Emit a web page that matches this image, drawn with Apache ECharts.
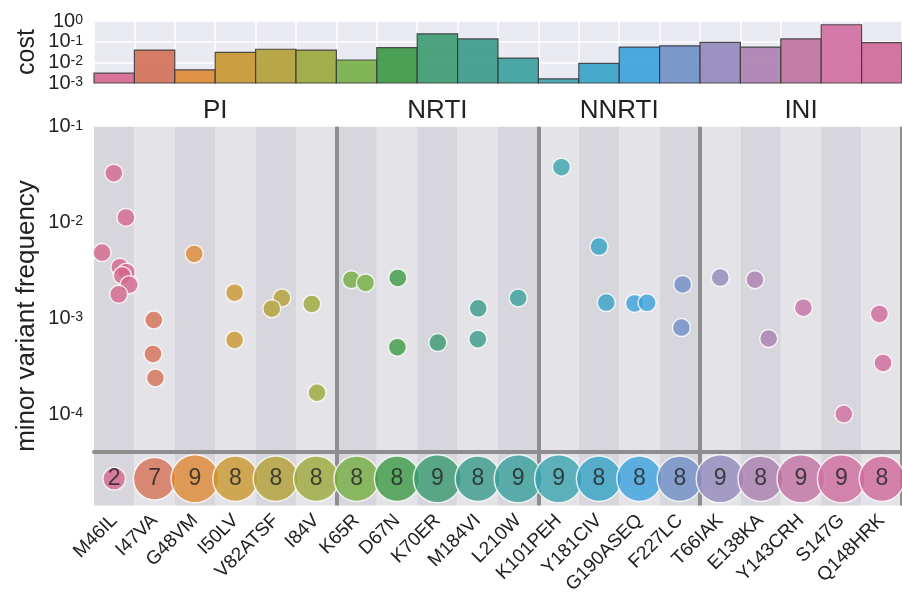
<!DOCTYPE html>
<html><head><meta charset="utf-8">
<script src="https://cdn.jsdelivr.net/npm/echarts@6/dist/echarts.min.js"></script>
<style>html,body{margin:0;padding:0;background:#fff}#c{width:902px;height:609px}</style>
</head><body><div id="c"></div>
<script>
const categories = ['M46IL','I47VA','G48VM','I50LV','V82ATSF','I84V','K65R','D67N','K70ER','M184VI','L210W','K101PEH','Y181CIV','G190ASEQ','F227LC','T66IAK','E138KA','Y143CRH','S147G','Q148HRK'];
const groupNames = ['PI','NRTI','NNRTI','INI'];
const groupSizes = [6,5,4,5];
const cost = [0.0030,0.039,0.0043,0.030,0.043,0.039,0.013,0.051,0.24,0.135,0.016,0.0016,0.009,0.055,0.063,0.093,0.055,0.135,0.66,0.089];
const sampleCounts = [2,7,9,8,8,8,8,8,9,8,9,9,8,8,8,9,8,9,9,8];
const minorFreq = [
  [0.0327,0.0113,0.00485,0.00342,0.00303,0.0028,0.00224,0.00178],
  [0.00096,0.000425,0.000238],
  [0.0047],
  [0.00185,0.000594],
  [0.00163,0.00126],
  [0.00141,0.000167],
  [0.00253,0.00234],
  [0.00264,0.0005],
  [0.000558],
  [0.00127,0.000605],
  [0.00163],
  [0.0378],
  [0.0056,0.00146],
  [0.00143,0.00145],
  [0.00226,0.0008],
  [0.00266],
  [0.00253,0.000615],
  [0.00129],
  [0.0001],
  [0.00111,0.000342]
];
// horizontal jitter within each category (fraction of a category width)
const jitter = [
  [-0.01,0.29,-0.30,0.14,0.30,0.20,0.37,0.11],
  [-0.02,-0.04,0.02],
  [-0.02],
  [-0.02,-0.02],
  [0.15,-0.10],
  [-0.11,0.02],
  [-0.13,0.22],
  [0.02,0.01],
  [0.01],
  [0.01,0],
  [0],
  [0.07],
  [0,0.18],
  [-0.12,0.19],
  [0.07,0.04],
  [0],
  [-0.14,0.20],
  [0.06],
  [0.06],
  [-0.06,0.03]
];
const costRange = [0.001, 1];
const freqRange = [1e-4, 0.1];

const palette = ['#d5668c','#d46f55','#e08a34','#c8962e','#b3a036','#9aa73a','#75ae42','#3a9842','#3a9a70','#389a88','#3aa09c','#3aa3ad','#36a3c6','#3aa0dc','#6f8fc6','#9488bc','#ab80b0','#c070a0','#d06ea0','#d06898'];
const stripe = ['#d6d6dc','#e3e3e8'];
const dividerColor = '#8e8e8e';
const FONT = '"Liberation Sans", Arial, sans-serif';

const dividers = [];
{ let s = 0; for (let k = 0; k < groupSizes.length - 1; k++) { s += groupSizes[k]; dividers.push(s); } }

const GL = 94, GW = 814;

function powLabel(v) {
  const e = Math.log10(v), r = Math.round(e);
  if (Math.abs(e - r) > 1e-6) return '';
  return '{b|10}{e|' + r + '}';
}
const richPow = {
  b: {fontSize: 20, color: '#222', fontFamily: FONT, lineHeight: 16},
  e: {fontSize: 14, color: '#222', fontFamily: FONT, verticalAlign: 'top', lineHeight: 11}
};
const powAxisLabel = {formatter: powLabel, rich: richPow, margin: 11, interval: 0, showMinLabel: true, showMaxLabel: true, hideOverlap: false};

const chart = echarts.init(document.getElementById('c'), null, {renderer: 'canvas'});

const scatterData = [];
minorFreq.forEach((arr, i) => arr.forEach((v, j) => {
  scatterData.push({value: [i + 0.5 + jitter[i][j], v], itemStyle: {color: palette[i]}});
}));
const maxCount = Math.max(...sampleCounts);

const stripeAxis = (gridIndex, extra) => Object.assign({
  gridIndex, type: 'category', data: categories, boundaryGap: true,
  axisLine: {show: false}, axisTick: {show: false}, axisLabel: {show: false},
  splitArea: {show: true, interval: 0, areaStyle: {color: stripe}},
  splitLine: {show: true, interval: (idx) => dividers.includes(idx), lineStyle: {color: dividerColor, width: 4}}
}, extra || {});

const option = {
  animation: false,
  backgroundColor: '#fff',
  textStyle: {fontFamily: FONT},
  grid: [
    {left: GL, top: 21, width: GW, height: 62, show: true, backgroundColor: '#eaeaf2', borderWidth: 0},
    {left: GL, top: 126.7, width: GW, height: 287.4},
    {left: GL, top: 414.1, width: GW, height: 37.9},
    {left: GL, top: 452, width: GW, height: 53.5}
  ],
  xAxis: [
    {gridIndex: 0, type: 'category', data: categories, boundaryGap: true,
     axisLine: {show: false}, axisTick: {show: false}, axisLabel: {show: false},
     splitLine: {show: true, interval: 0, lineStyle: {color: '#fff', width: 1.5}}},
    stripeAxis(1),
    {gridIndex: 1, type: 'value', min: 0, max: categories.length, show: false, splitLine: {show: false}},
    stripeAxis(2, {axisLine: {show: true, lineStyle: {color: dividerColor, width: 4}}}),
    stripeAxis(3, {axisLabel: {show: true, interval: 0, rotate: 45, fontSize: 19, color: '#222', margin: 12, fontFamily: FONT}})
  ],
  yAxis: [
    {gridIndex: 0, type: 'log', logBase: 10, min: costRange[0], max: costRange[1], interval: 1,
     axisLine: {show: false}, axisTick: {show: false},
     axisLabel: powAxisLabel,
     splitLine: {show: true, lineStyle: {color: '#fff', width: 1.5}}},
    {gridIndex: 1, type: 'log', logBase: 10, min: freqRange[0], max: freqRange[1], interval: 1,
     axisLine: {show: false}, axisTick: {show: false},
     axisLabel: powAxisLabel,
     splitLine: {show: true, lineStyle: {color: 'rgba(255,255,255,0.6)', width: 2}}},
    {gridIndex: 2, type: 'value', min: 0, max: 1, show: false, splitLine: {show: false}},
    {gridIndex: 3, type: 'value', min: 0, max: 1, show: false, splitLine: {show: false}}
  ],
  series: [
    {type: 'custom', xAxisIndex: 0, yAxisIndex: 0, data: cost.map((v, i) => [i, v]),
     renderItem(params, api) {
       const i = api.value(0), v = api.value(1);
       const top = api.coord([i, v]);
       const base = api.coord([i, costRange[0]]);
       const w = api.size([1, 1])[0];
       return {type: 'rect', shape: {x: top[0] - w / 2, y: top[1], width: w, height: base[1] - top[1]},
         style: {fill: palette[i], stroke: '#3c3c3c', lineWidth: 1.2, opacity: 0.9}};
     }},
    {type: 'scatter', xAxisIndex: 2, yAxisIndex: 1, data: scatterData, symbolSize: 18, clip: false,
     itemStyle: {opacity: 0.8, borderColor: '#fff', borderWidth: 1.5}},
    {type: 'scatter', xAxisIndex: 4, yAxisIndex: 3, clip: false,
     data: sampleCounts.map((n, i) => ({value: [i, 0.5, n], itemStyle: {color: palette[i]}})),
     symbolSize: (val) => 48 * Math.sqrt(val[2] / maxCount),
     itemStyle: {opacity: 0.8, borderColor: '#fff', borderWidth: 1.5},
     label: {show: true, position: 'inside', formatter: (p) => String(p.value[2]), fontSize: 23, color: '#222', fontFamily: FONT}}
  ]
};
chart.setOption(option);

const graphics = [
  {type: 'text', x: 27, y: 52, rotation: Math.PI / 2, style: {text: 'cost', fontSize: 25, fill: '#222', fontFamily: FONT, textAlign: 'center', textVerticalAlign: 'middle'}},
  {type: 'text', x: 27, y: 316, rotation: Math.PI / 2, style: {text: 'minor variant frequency', fontSize: 26, fill: '#222', fontFamily: FONT, textAlign: 'center', textVerticalAlign: 'middle'}}
];
{ let s = 0;
  groupNames.forEach((g, k) => {
    const c = s + groupSizes[k] / 2; s += groupSizes[k];
    const px = chart.convertToPixel({xAxisIndex: 2}, c);
    graphics.push({type: 'text', x: px, y: 111, style: {text: g, fontSize: 26, fill: '#222', fontFamily: FONT, textAlign: 'center', textVerticalAlign: 'middle'}});
  });
}
chart.setOption({graphic: graphics});
</script></body></html>
